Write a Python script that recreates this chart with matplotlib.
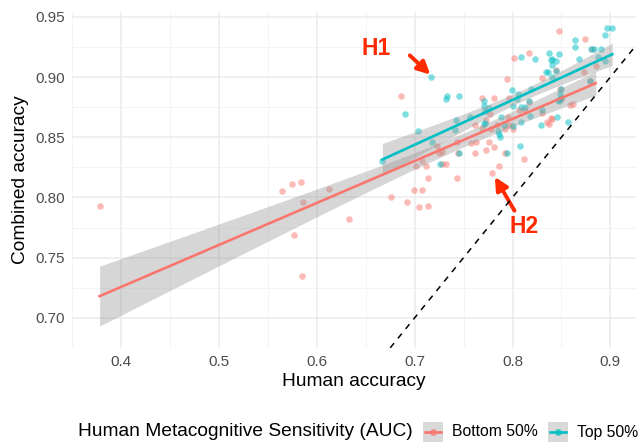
import matplotlib
matplotlib.use('Agg')
import matplotlib.pyplot as plt
import numpy as np
from matplotlib.patches import Rectangle
from matplotlib.lines import Line2D

plt.rcParams['font.family'] = ['Liberation Sans', 'DejaVu Sans']

# data: human accuracy vs combined accuracy, split by metacognitive sensitivity
bottom_x = [0.378, 0.564, 0.575, 0.584, 0.586, 0.612, 0.633, 0.577, 0.585,
            0.676, 0.692, 0.704, 0.714, 0.699, 0.708, 0.714, 0.743, 0.701, 0.712,
            0.707, 0.728, 0.732, 0.725, 0.723, 0.728, 0.743, 0.744, 0.762, 0.758,
            0.763, 0.781, 0.773, 0.776, 0.792, 0.786, 0.779, 0.812, 0.773, 0.762,
            0.795, 0.784, 0.792, 0.801, 0.813, 0.830, 0.839, 0.835, 0.850, 0.859,
            0.862, 0.849, 0.769, 0.781, 0.796, 0.817, 0.777, 0.686, 0.794, 0.830,
            0.802, 0.817, 0.847, 0.874, 0.881, 0.885, 0.873, 0.844, 0.879, 0.769,
            0.778, 0.796, 0.837, 0.840, 0.807]
bottom_y = [0.793, 0.805, 0.811, 0.813, 0.796, 0.807, 0.782, 0.769, 0.735,
            0.800, 0.796, 0.792, 0.793, 0.806, 0.806, 0.816, 0.816, 0.826, 0.826,
            0.830, 0.828, 0.828, 0.837, 0.843, 0.838, 0.846, 0.837, 0.837, 0.845,
            0.846, 0.842, 0.839, 0.846, 0.837, 0.826, 0.820, 0.832, 0.864, 0.860,
            0.867, 0.860, 0.857, 0.857, 0.872, 0.870, 0.866, 0.863, 0.882, 0.877,
            0.878, 0.890, 0.883, 0.883, 0.883, 0.879, 0.869, 0.884, 0.898, 0.899,
            0.916, 0.920, 0.938, 0.932, 0.923, 0.909, 0.904, 0.906, 0.897, 0.858,
            0.857, 0.860, 0.861, 0.865, 0.873]

top_x = [0.897, 0.902, 0.895, 0.864, 0.864, 0.880, 0.883, 0.890, 0.887, 0.895,
         0.868, 0.809, 0.823, 0.837, 0.847, 0.840, 0.844, 0.839, 0.840, 0.844,
         0.834, 0.836, 0.840, 0.879, 0.799, 0.806, 0.805, 0.800, 0.819, 0.849,
         0.850, 0.771, 0.771, 0.772, 0.771, 0.776, 0.813, 0.809, 0.817, 0.818,
         0.830, 0.845, 0.857, 0.829, 0.809, 0.788, 0.800, 0.786, 0.787, 0.791,
         0.772, 0.757, 0.785, 0.846, 0.850, 0.848, 0.732, 0.733, 0.745, 0.690,
         0.742, 0.741, 0.703, 0.718, 0.745, 0.808, 0.794, 0.726, 0.667, 0.717]
top_y = [0.941, 0.941, 0.935, 0.931, 0.925, 0.923, 0.923, 0.923, 0.917, 0.913,
         0.915, 0.917, 0.915, 0.920, 0.919, 0.915, 0.913, 0.914, 0.910, 0.905,
         0.904, 0.904, 0.900, 0.897, 0.889, 0.886, 0.882, 0.876, 0.890, 0.886,
         0.890, 0.880, 0.876, 0.872, 0.861, 0.874, 0.875, 0.875, 0.880, 0.868,
         0.873, 0.867, 0.863, 0.860, 0.863, 0.867, 0.859, 0.853, 0.850, 0.860,
         0.862, 0.867, 0.855, 0.881, 0.883, 0.880, 0.882, 0.884, 0.884, 0.869,
         0.864, 0.856, 0.855, 0.846, 0.837, 0.843, 0.837, 0.828, 0.830, 0.900]

groups = ['Bottom 50%', 'Top 50%']
colors = ['#F8766D', '#00BFC4']


def lm_fit(x, y):
    # linear fit with 95% confidence band (like geom_smooth(method='lm'))
    x = np.asarray(x)
    y = np.asarray(y)
    b1, b0 = np.polyfit(x, y, 1)
    xs = np.linspace(x.min(), x.max(), 100)
    n = len(x)
    s = np.sqrt(np.sum((y - (b0 + b1 * x)) ** 2) / (n - 2))
    sxx = np.sum((x - x.mean()) ** 2)
    se = s * np.sqrt(1 / n + (xs - x.mean()) ** 2 / sxx)
    fit = b0 + b1 * xs
    return xs, fit, fit - 1.994 * se, fit + 1.994 * se


fig = plt.figure(figsize=(6.39, 4.46), dpi=100)
ax = fig.add_axes([0.113, 0.22, 0.882, 0.753])

series = [(bottom_x, bottom_y), (top_x, top_y)]
for (x, y), c in zip(series, colors):
    ax.scatter(x, y, s=22, color=c, alpha=0.5, linewidths=0, zorder=2)

for (x, y), c in zip(series, colors):
    xs, fit, lo, hi = lm_fit(x, y)
    ax.fill_between(xs, lo, hi, color='#999999', alpha=0.4, linewidth=0, zorder=3)
    ax.plot(xs, fit, color=c, lw=1.9, zorder=4)

# identity line
ax.axline((0.7, 0.7), slope=1, color='black', ls=(0, (4, 4)), lw=1.1, zorder=5)

# annotations
red = '#FF2A00'
arrow = dict(arrowstyle='-|>', color=red, lw=2.8, mutation_scale=19,
             shrinkA=0, shrinkB=0)
ax.text(0.661, 0.924, 'H1', color=red, fontsize=16.5, fontweight='bold',
        ha='center', va='center')
ax.annotate('', xy=(0.716, 0.902), xytext=(0.695, 0.918), arrowprops=arrow)
ax.text(0.812, 0.776, 'H2', color=red, fontsize=16.5, fontweight='bold',
        ha='center', va='center')
ax.annotate('', xy=(0.782, 0.817), xytext=(0.802, 0.789), arrowprops=arrow)

ax.set_xlim(0.352, 0.926)
ax.set_ylim(0.678, 0.954)
ax.set_xticks([0.4, 0.5, 0.6, 0.7, 0.8, 0.9])
ax.set_xticklabels(['0.4', '0.5', '0.6', '0.7', '0.8', '0.9'])
ax.set_yticks([0.70, 0.75, 0.80, 0.85, 0.90, 0.95])
ax.set_yticklabels(['0.70', '0.75', '0.80', '0.85', '0.90', '0.95'])
ax.set_xticks(np.arange(0.35, 0.93, 0.05), minor=True)
ax.set_yticks(np.arange(0.675, 0.955, 0.025), minor=True)
ax.grid(True, which='major', color='#EBEBEB', lw=1.1, zorder=0)
ax.grid(True, which='minor', color='#F2F2F2', lw=0.6, zorder=0)
ax.set_axisbelow(True)
for sp in ax.spines.values():
    sp.set_visible(False)
ax.tick_params(which='both', length=0, labelsize=11, labelcolor='#4D4D4D', pad=5)
ax.set_xlabel('Human accuracy', fontsize=13.8, labelpad=3)
ax.set_ylabel('Combined accuracy', fontsize=13.8, labelpad=5)

# legend along the bottom, drawn by hand: grey key box, line + dot, label
W, H = 639.0, 446.0
leg_y = 14 / H
fig.text(78 / W, leg_y, 'Human Metacognitive Sensitivity (AUC)', fontsize=13.8,
         va='center', ha='left')
for i, (lab, c) in enumerate(zip(groups, colors)):
    x0 = (423 + 125 * i) / W
    fig.add_artist(Rectangle((x0, leg_y - 10 / H), 20 / W, 20 / H,
                             transform=fig.transFigure, facecolor='#D9D9D9',
                             edgecolor='none'))
    fig.add_artist(Line2D([x0 + 2 / W, x0 + 18 / W], [leg_y, leg_y],
                          transform=fig.transFigure, color=c, lw=1.9))
    fig.add_artist(Line2D([x0 + 10 / W], [leg_y], transform=fig.transFigure,
                          color=c, marker='o', ms=4, alpha=0.6, lw=0))
    fig.text(x0 + 29 / W, leg_y, lab, fontsize=11.3, va='center', ha='left')

fig.savefig('out.png', dpi=100)
